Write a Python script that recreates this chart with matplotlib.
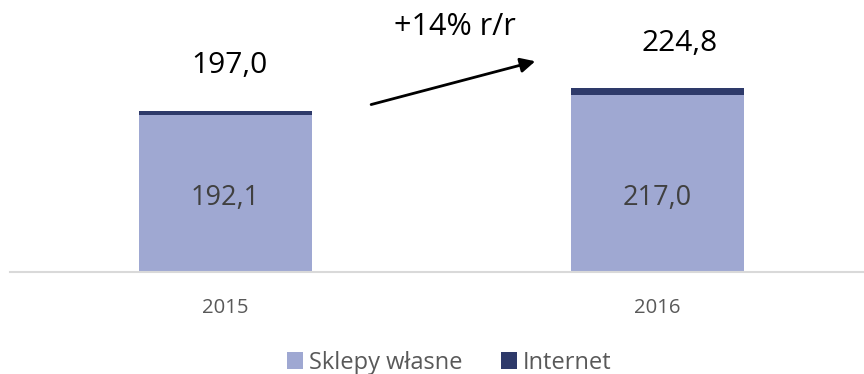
import matplotlib.pyplot as plt

plt.rcParams["font.family"] = ["Open Sans", "DejaVu Sans"]

years = ["2015", "2016"]
sklepy = [192.1, 217.0]
internet = [4.9, 7.8]
totals = [197.0, 224.8]
growth_label = "+14% r/r"

W, H = 864, 374
fig = plt.figure(figsize=(W / 100, H / 100), dpi=100)
# obszar wykresu: od x=10 px, oś na wysokości 272 px od góry
ax = fig.add_axes([10 / W, (H - 272) / H, (W - 10) / W, 272 / H])

x = range(len(years))
ax.bar(x, sklepy, width=0.4, color="#9FA8D2", label="Sklepy własne")
ax.bar(x, internet, width=0.4, bottom=sklepy, color="#2E3A6A", label="Internet")

ax.set_xlim(-0.499, 1.478)
ax.set_ylim(0, 333)

def fmt(v):
    return f"{v:.1f}".replace(".", ",")

# wartości w środku słupków
for i in x:
    ax.text(i, 91, fmt(sklepy[i]), ha="center", va="center",
            fontsize=19.5, color="#404040")

# sumy nad słupkami (przesunięcie względem środka słupka)
total_pos = [(0.01, 253), (0.05, 280)]
for i in x:
    ax.text(i + total_pos[i][0], total_pos[i][1], fmt(totals[i]),
            ha="center", va="center", fontsize=21.5, color="black")

ax.annotate("", xy=(0.717, 258), xytext=(0.337, 205),
            arrowprops=dict(arrowstyle="-|>", color="black", lw=2,
                            mutation_scale=22, shrinkA=0, shrinkB=0))
ax.text(0.532, 300, growth_label, ha="center", va="center", fontsize=22, color="black")

for s in ["top", "right", "left"]:
    ax.spines[s].set_visible(False)
ax.spines["bottom"].set_color("#D9D9D9")
ax.spines["bottom"].set_linewidth(1.5)
ax.set_yticks([])
ax.set_xticks(list(x))
ax.set_xticklabels(years, fontsize=14.6, color="#595959")
ax.tick_params(axis="x", length=0, pad=19)

fig.legend(loc="center", bbox_to_anchor=(0.52, 0.03), ncol=2, frameon=False,
           fontsize=17, labelcolor="#595959", handlelength=0.7, handleheight=0.7,
           handletextpad=0.25, columnspacing=1.6)

fig.savefig("out.png", dpi=100)
